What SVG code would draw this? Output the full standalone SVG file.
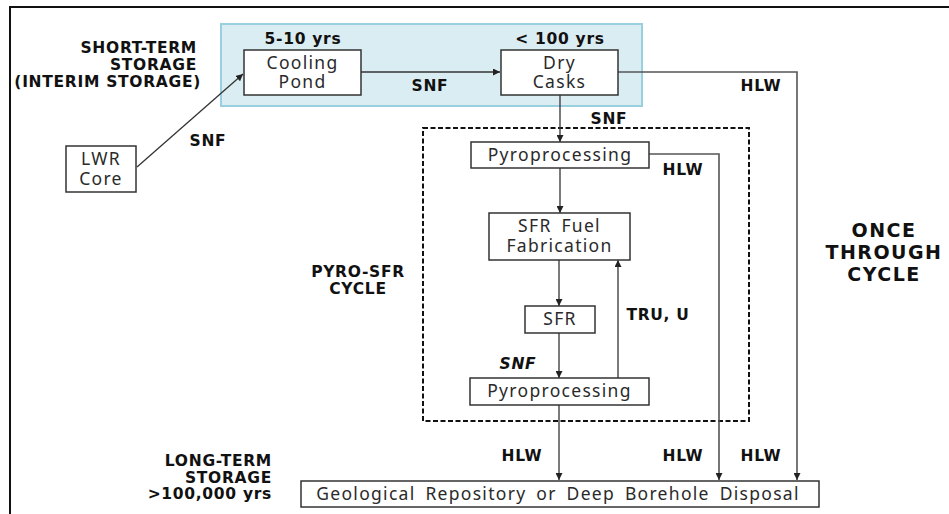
<svg xmlns="http://www.w3.org/2000/svg" width="949" height="514" viewBox="0 0 949 514">
  <defs>
    <marker id="arrow" viewBox="0 0 8 8" refX="8" refY="4" markerWidth="7" markerHeight="7" markerUnits="userSpaceOnUse" orient="auto">
      <path d="M0,0 L8,4 L0,8 Z" fill="#222"/>
    </marker>
    <style>
      .box { fill: #ffffff; stroke: #333333; stroke-width: 1.5; }
      .boxtxt { font-family: "Noto Sans", "Open Sans", sans-serif; font-size: 17.5px; letter-spacing: 1.3px; word-spacing: 4px; fill: #2a2a2a; text-anchor: middle; }
      .lbl { font-family: "DejaVu Sans", "Liberation Sans", sans-serif; font-weight: bold; font-size: 15.5px; letter-spacing: 0.7px; fill: #111; }
      .big { font-size: 19px; letter-spacing: 1.5px; }
      .mid { text-anchor: middle; }
      .end { text-anchor: end; }
      .wire { fill: none; stroke: #333333; stroke-width: 1.3; }
      .wire2 { fill: none; stroke: #555555; stroke-width: 1.6; }
    </style>
  </defs>

  <!-- page frame (top and left edges) -->
  <path d="M10,514 V7 H949" fill="none" stroke="#111" stroke-width="2"/>

  <!-- interim storage band -->
  <rect id="interim-storage" x="221" y="24" width="421" height="82" fill="#daedf3" stroke="#9acfdf" stroke-width="2"/>

  <!-- pyro-SFR cycle boundary -->
  <rect id="pyro-sfr-cycle" x="423" y="128" width="326" height="293" fill="none" stroke="#111" stroke-width="2" stroke-dasharray="5 2.5"/>

  <!-- connectors -->
  <g id="connectors">
    <path class="wire" d="M137,167 L243,74" marker-end="url(#arrow)"/>
    <path class="wire" d="M361,72 H500" marker-end="url(#arrow)"/>
    <path class="wire" d="M560,95 V142" marker-end="url(#arrow)"/>
    <path class="wire2" d="M618,72 H797 V480" marker-end="url(#arrow)"/>
    <path class="wire" d="M560,168 V213" marker-end="url(#arrow)"/>
    <path class="wire2" d="M649,154 H719 V480" marker-end="url(#arrow)"/>
    <path class="wire" d="M559,260 V306" marker-end="url(#arrow)"/>
    <path class="wire" d="M559,333 V378" marker-end="url(#arrow)"/>
    <path class="wire" d="M618,378 V260" marker-end="url(#arrow)"/>
    <path class="wire" d="M559,405 V480" marker-end="url(#arrow)"/>
  </g>

  <!-- nodes -->
  <g id="lwr-core">
    <rect class="box" x="66" y="146" width="70" height="46"/>
    <text class="boxtxt" x="101" y="165">LWR</text>
    <text class="boxtxt" x="101" y="185">Core</text>
  </g>
  <g id="cooling-pond">
    <rect class="box" x="244" y="50" width="117" height="45"/>
    <text class="boxtxt" x="302.5" y="69">Cooling</text>
    <text class="boxtxt" x="302.5" y="88">Pond</text>
  </g>
  <g id="dry-casks">
    <rect class="box" x="501" y="50" width="117" height="45"/>
    <text class="boxtxt" x="559.5" y="69">Dry</text>
    <text class="boxtxt" x="559.5" y="88">Casks</text>
  </g>
  <g id="pyroprocessing-1">
    <rect class="box" x="471" y="142" width="178" height="26"/>
    <text class="boxtxt" x="560" y="161">Pyroprocessing</text>
  </g>
  <g id="sfr-fuel-fabrication">
    <rect class="box" x="489" y="213" width="141" height="47"/>
    <text class="boxtxt" x="559.5" y="232">SFR Fuel</text>
    <text class="boxtxt" x="559.5" y="252">Fabrication</text>
  </g>
  <g id="sfr">
    <rect class="box" x="525" y="306" width="70" height="27"/>
    <text class="boxtxt" x="560" y="325">SFR</text>
  </g>
  <g id="pyroprocessing-2">
    <rect class="box" x="470" y="378" width="179" height="27"/>
    <text class="boxtxt" x="559.5" y="397">Pyroprocessing</text>
  </g>
  <g id="repository">
    <rect class="box" x="301" y="481" width="518" height="26"/>
    <text class="boxtxt" x="558" y="500">Geological Repository or Deep Borehole Disposal</text>
  </g>

  <!-- labels -->
  <g id="labels">
    <text class="lbl end" x="197" y="53">SHORT-TERM</text>
    <text class="lbl end" x="197" y="70">STORAGE</text>
    <text class="lbl end" x="201" y="87">(INTERIM STORAGE)</text>
    <text class="lbl mid" x="303" y="44">5-10 yrs</text>
    <text class="lbl mid" x="560" y="44">&lt; 100 yrs</text>
    <text class="lbl mid" x="430" y="91">SNF</text>
    <text class="lbl mid" x="208" y="146">SNF</text>
    <text class="lbl mid" x="761" y="91">HLW</text>
    <text class="lbl mid" x="609" y="124">SNF</text>
    <text class="lbl mid" x="683" y="175">HLW</text>
    <text class="lbl mid" x="358" y="277">PYRO-SFR</text>
    <text class="lbl mid" x="358" y="294">CYCLE</text>
    <text class="lbl mid" x="658" y="320">TRU, U</text>
    <text class="lbl mid" x="518" y="369" font-style="italic">SNF</text>
    <text class="lbl mid" x="522" y="461">HLW</text>
    <text class="lbl mid" x="683" y="461">HLW</text>
    <text class="lbl mid" x="761" y="461">HLW</text>
    <text class="lbl end" x="272" y="466">LONG-TERM</text>
    <text class="lbl end" x="272" y="483">STORAGE</text>
    <text class="lbl end" x="272" y="499">&gt;100,000 yrs</text>
    <text class="lbl mid big" x="884" y="237">ONCE</text>
    <text class="lbl mid big" x="884" y="259">THROUGH</text>
    <text class="lbl mid big" x="884" y="281">CYCLE</text>
  </g>
</svg>
